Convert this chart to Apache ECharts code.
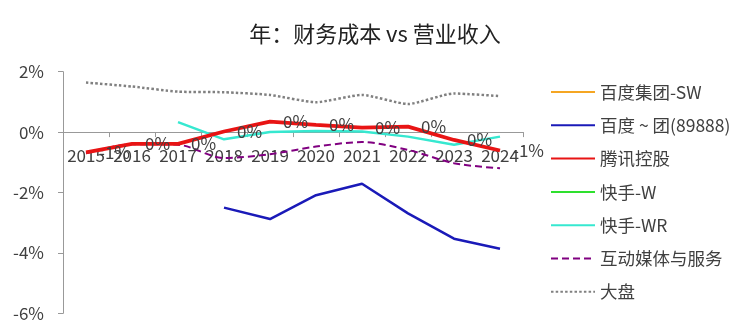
<!DOCTYPE html>
<html><head><meta charset="utf-8">
<script src="https://cdn.jsdelivr.net/npm/echarts@6/dist/echarts.min.js"></script>
<style>html,body{margin:0;padding:0;background:#fff}#c{width:750px;height:333px}</style>
</head><body><div id="c"></div>
<script>
var titleText = '年：财务成本 vs 营业收入';
var years = ['2015','2016','2017','2018','2019','2020','2021','2022','2023','2024'];
var names = ['百度集团-SW','百度 ~ 团(89888)','腾讯控股','快手-W','快手-WR','互动媒体与服务','大盘'];
var baiduSW = [];
var baidu89888 = [null,null,null,-2.50,-2.88,-2.09,-1.71,-2.69,-3.53,-3.86];
var tencent = [-0.67,-0.39,-0.39,0.02,0.35,0.24,0.15,0.18,-0.26,-0.61];
var kuaishouW = [];
var kuaishouWR = [null,null,0.33,-0.24,0.00,0.04,0.02,-0.15,-0.42,-0.15];
var media = [-0.70,-0.40,-0.42,-0.86,-0.73,-0.48,-0.33,-0.59,-1.03,-1.20];
var market = [1.64,1.51,1.34,1.32,1.23,0.99,1.23,0.93,1.28,1.19];
var yTicks = [-6,-4,-2,0,2];

var font = '"Noto Sans CJK SC","Noto Sans",sans-serif';
var txt = '#404040';
var gridTop = 71.7, gridBottom = 19.7, chartH = 333;
var plotH = chartH - gridTop - gridBottom;
var yMin = yTicks[0], yMax = yTicks[yTicks.length-1];
// distance from the grid's bottom edge up to the value 0 (places the category axis on zero)
var zeroOffset = -plotH * (0 - yMin) / (yMax - yMin);

var chart = echarts.init(document.getElementById('c'), null, {renderer:'canvas'});
function line(name, data, color, width, type, extra){
  var s = {name:name, type:'line', data:data, symbol:'circle', symbolSize:0, showSymbol:true,
    connectNulls:false, lineStyle:{color:color, width:width, type:type||'solid'},
    itemStyle:{color:color}};
  if (extra) for (var k in extra) s[k]=extra[k];
  return s;
}
chart.setOption({
  animation:false,
  title:{text:titleText, left:'center', top:18, textStyle:{fontFamily:font, fontSize:22, fontWeight:'normal', color:'#222'}},
  grid:{left:63, right:227, top:gridTop, bottom:gridBottom, containLabel:false, outerBoundsMode:'none'},
  legend:{orient:'vertical', left:545, top:77, itemWidth:44, itemHeight:20, itemGap:13.3,
    itemStyle:{opacity:0},
    textStyle:{fontFamily:font, fontSize:17.5, color:txt, lineHeight:20},
    data:names},
  xAxis:{type:'category', data:years, boundaryGap:true, position:'bottom', offset:zeroOffset,
    axisLine:{show:true, onZero:false, lineStyle:{color:'#999', width:1}},
    axisTick:{show:true, length:5, alignWithLabel:false, lineStyle:{color:'#999'}},
    axisLabel:{fontFamily:font, fontSize:17, color:txt, margin:15, interval:0},
    splitLine:{show:false}},
  yAxis:{type:'value', min:yMin, max:yMax, interval:2,
    axisLine:{show:true, lineStyle:{color:'#999'}},
    axisTick:{show:true, length:5, lineStyle:{color:'#999'}},
    axisLabel:{fontFamily:font, fontSize:17, color:txt, margin:19, formatter:function(v){return v+'%';}},
    splitLine:{show:false}},
  series:[
    line(names[0], baiduSW, '#F5A623', 2),
    line(names[1], baidu89888, '#1a1ab8', 2.5),
    line(names[2], tencent, '#e81414', 3.8, 'solid', {z:5,
      label:{show:true, position:'right', distance:13, fontFamily:font, fontSize:17, color:txt,
        formatter:function(p){var r=Math.round(p.value); if(r===0) r=0; return r+'%';}}}),
    line(names[3], kuaishouW, '#2ee02e', 2),
    line(names[4], kuaishouWR, '#36e8d0', 2.5),
    line(names[5], media, '#800080', 2, [7,4], {smooth:0.3}),
    line(names[6], market, '#808080', 2.5, [2.5,2.2], {smooth:0.2})
  ]
});
</script></body></html>
